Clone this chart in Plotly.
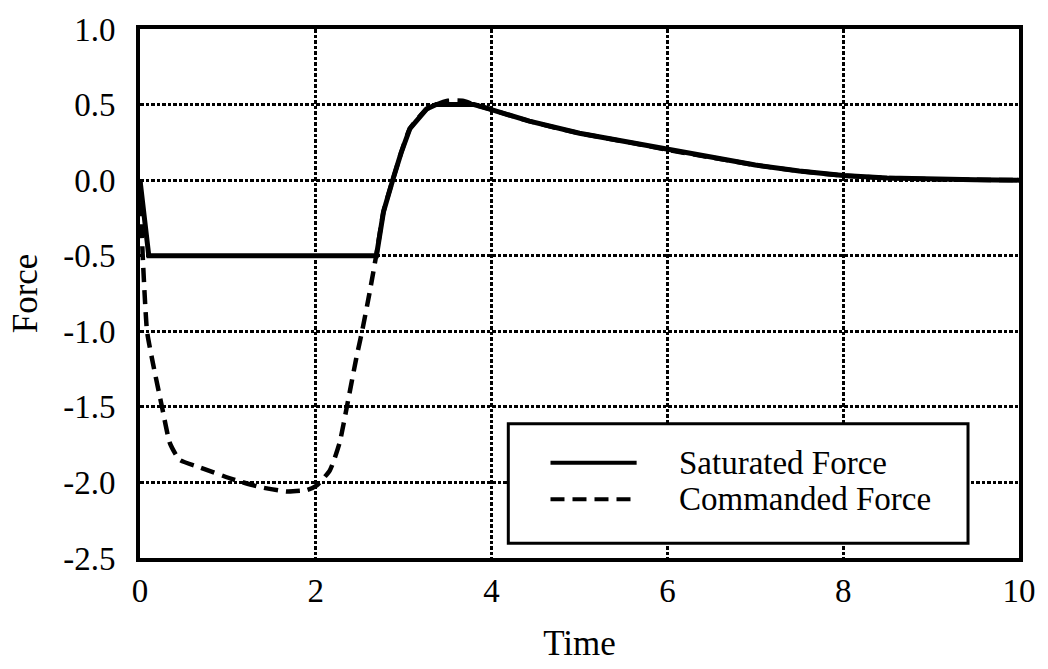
import plotly.graph_objects as go

# Commanded (unsaturated) force response
commanded_t = [0, 0.03, 0.08, 0.15, 0.25, 0.34, 0.45, 0.68, 1.06, 1.36, 1.67, 1.9,
               2.01, 2.16, 2.27, 2.36, 2.46, 2.53, 2.61, 2.69, 2.77, 2.88, 2.97,
               3.07, 3.26, 3.37, 3.5, 3.67, 3.8, 3.98, 4.43, 5.0, 5.57, 6.0, 6.5,
               7.0, 7.5, 8.0, 8.5, 9.0, 9.5, 10.0]
commanded_f = [0.0, -0.49, -1.0, -1.22, -1.5, -1.74, -1.85, -1.9, -1.98, -2.03,
               -2.06, -2.05, -2.02, -1.92, -1.74, -1.48, -1.18, -0.99, -0.75,
               -0.49, -0.21, 0.01, 0.18, 0.34, 0.47, 0.5, 0.525, 0.525, 0.5, 0.47,
               0.39, 0.31, 0.25, 0.2, 0.15, 0.1, 0.06, 0.03, 0.015, 0.006, 0.002, 0.0]

# Saturated force (limited to +/-0.5)
saturated_t = [0, 0.1, 2.69, 2.77, 2.88, 2.97, 3.07, 3.26, 3.37, 3.5, 3.67, 3.8,
               3.98, 4.43, 5.0, 5.57, 6.0, 6.5, 7.0, 7.5, 8.0, 8.5, 9.0, 9.5, 10.0]
saturated_f = [0.0, -0.5, -0.5, -0.21, 0.01, 0.18, 0.34, 0.47, 0.5, 0.5, 0.5, 0.5,
               0.47, 0.39, 0.31, 0.25, 0.2, 0.15, 0.1, 0.06, 0.03, 0.015, 0.006,
               0.002, 0.0]

x_ticks = [0, 2, 4, 6, 8, 10]
y_ticks = [1.0, 0.5, 0.0, -0.5, -1.0, -1.5, -2.0, -2.5]
y_tick_text = ["1.0", "0.5", "0.0", "-0.5", "-1.0", "-1.5", "-2.0", "-2.5"]

legend_names = ["Saturated Force", "Commanded Force"]

FONT = "Liberation Serif, Times New Roman, serif"
DASH = "14px,8px"

fig = go.Figure()
fig.add_trace(go.Scatter(x=commanded_t, y=commanded_f, mode="lines",
                         name=legend_names[1],
                         line=dict(color="black", width=4.5, dash=DASH,
                                   shape="spline", smoothing=0.5)))
fig.add_trace(go.Scatter(x=saturated_t, y=saturated_f, mode="lines",
                         name=legend_names[0],
                         line=dict(color="black", width=5)))

axis_common = dict(
    showline=True, linewidth=4, linecolor="black", mirror=True,
    showgrid=True, gridcolor="black", gridwidth=2.6, griddash="3.5px,2px",
    zeroline=False, ticks="",
    tickfont=dict(family=FONT, size=33, color="black"),
)

fig.update_xaxes(range=[0, 10], tickvals=x_ticks, ticktext=[str(v) for v in x_ticks],
                 ticklabelstandoff=0,
                 title=dict(text="Time", font=dict(family=FONT, size=35, color="black"),
                            standoff=24),
                 **axis_common)
fig.update_yaxes(range=[-2.5, 1.0], tickvals=y_ticks, ticktext=y_tick_text,
                 ticklabelstandoff=14,
                 title=dict(text="Force", font=dict(family=FONT, size=35, color="black"),
                            standoff=16),
                 **axis_common)

# Boxed legend drawn in paper coordinates
box = dict(x0=0.419, x1=0.942, y0=0.028, y1=0.254)
fig.add_shape(type="rect", xref="paper", yref="paper", layer="above",
              x0=box["x0"], x1=box["x1"], y0=box["y0"], y1=box["y1"],
              line=dict(color="black", width=3), fillcolor="white")
rows = [(0.180, "solid"), (0.111, DASH)]
for (yy, dash), label in zip(rows, legend_names):
    fig.add_shape(type="line", xref="paper", yref="paper", layer="above",
                  x0=0.467, x1=0.565, y0=yy, y1=yy,
                  line=dict(color="black", width=4, dash=dash))
    fig.add_annotation(xref="paper", yref="paper", x=0.611, y=yy, text=label,
                       showarrow=False, xanchor="left", yanchor="middle",
                       font=dict(family=FONT, size=33, color="black"))

fig.update_layout(
    width=1048, height=669,
    margin=dict(l=140, r=28, t=21, b=109),
    paper_bgcolor="white", plot_bgcolor="white",
    showlegend=False,
)

fig.write_html("out.html")
